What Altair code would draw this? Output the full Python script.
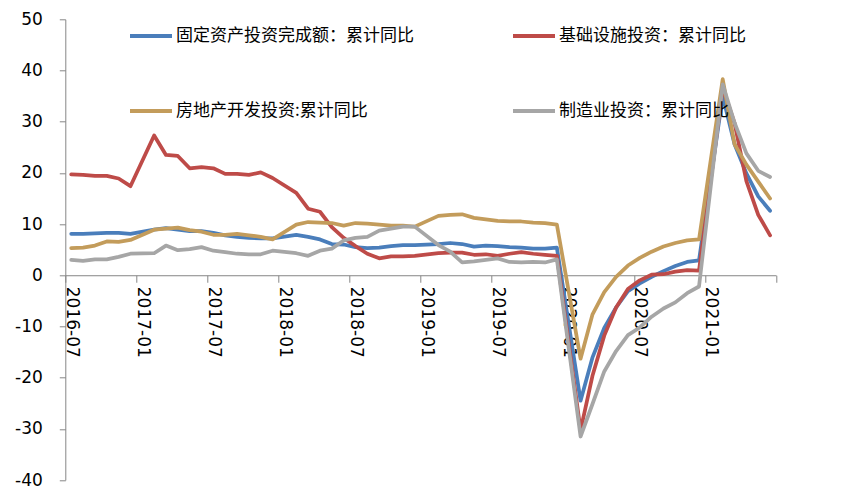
import altair as alt
import pandas as pd

# ---- data ----
years_months = []
for y in range(2016, 2022):
    for m in range(1, 13):
        years_months.append(f"{y}-{m:02d}")
categories = years_months[6:66]  # 2016-07 ... 2021-06 (60 categories)

tick_labels = ["2016-07", "2017-01", "2017-07", "2018-01", "2018-07",
               "2019-01", "2019-07", "2020-01", "2020-07", "2021-01"]

series_names = ["固定资产投资完成额：累计同比", "基础设施投资：累计同比",
                "房地产开发投资:累计同比", "制造业投资：累计同比"]
series_colors = ["#4A7EBB", "#BE4B48", "#C39C5B", "#A6A6A6"]

fai = [8.1, 8.1, 8.2, 8.3, 8.3, 8.1,
       None, 8.9, 9.2, 8.9, 8.6, 8.6, 8.3, 7.8, 7.5, 7.3, 7.2, 7.2,
       None, 7.9, 7.5, 7.0, 6.1, 6.0, 5.5, 5.3, 5.4, 5.7, 5.9, 5.9,
       None, 6.1, 6.3, 6.1, 5.6, 5.8, 5.7, 5.5, 5.4, 5.2, 5.2, 5.4,
       None, -24.5, -16.1, -10.3, -6.3, -3.1, -1.6, -0.3, 0.8, 1.8, 2.6, 2.9,
       None, 35.0, 25.6, 19.9, 15.4, 12.6]

infra = [19.7, 19.6, 19.4, 19.4, 18.9, 17.4,
         None, 27.3, 23.5, 23.3, 20.9, 21.1, 20.9, 19.8, 19.8, 19.6, 20.1, 19.0,
         None, 16.1, 13.0, 12.4, 9.4, 7.3, 5.7, 4.2, 3.3, 3.7, 3.7, 3.8,
         None, 4.3, 4.4, 4.4, 4.0, 4.1, 3.8, 4.2, 4.5, 4.2, 4.0, 3.8,
         None, -30.3, -19.7, -11.8, -6.3, -2.7, -1.0, 0.1, 0.2, 0.7, 1.0, 0.9,
         None, 36.6, 29.7, 18.4, 11.8, 7.8]

realestate = [5.3, 5.4, 5.8, 6.6, 6.5, 6.9,
              None, 8.9, 9.1, 9.3, 8.8, 8.5, 7.9, 7.9, 8.1, 7.8, 7.5, 7.0,
              None, 9.9, 10.4, 10.3, 10.2, 9.7, 10.2, 10.1, 9.9, 9.7, 9.7, 9.5,
              None, 11.6, 11.8, 11.9, 11.2, 10.9, 10.6, 10.5, 10.5, 10.3, 10.2, 9.9,
              None, -16.3, -7.7, -3.3, -0.3, 1.9, 3.4, 4.6, 5.6, 6.3, 6.8, 7.0,
              None, 38.3, 25.6, 21.6, 18.3, 15.0]

manufacturing = [3.0, 2.8, 3.1, 3.1, 3.6, 4.2,
                 None, 4.3, 5.8, 4.9, 5.1, 5.5, 4.8, 4.5, 4.2, 4.1, 4.1, 4.8,
                 None, 4.3, 3.8, 4.8, 5.2, 6.8, 7.3, 7.5, 8.7, 9.1, 9.5, 9.5,
                 None, 5.9, 4.6, 2.5, 2.7, 3.0, 3.3, 2.6, 2.5, 2.6, 2.5, 3.1,
                 None, -31.5, -25.2, -18.8, -14.8, -11.7, -10.2, -8.1, -6.5, -5.3, -3.5, -2.2,
                 None, 37.3, 29.8, 23.8, 20.4, 19.2]

all_series = [fai, infra, realestate, manufacturing]

rows = []
for name, vals in zip(series_names, all_series):
    for i, v in enumerate(vals):
        if v is not None:
            rows.append({"idx": i, "month": categories[i], "value": v, "series": name})
df = pd.DataFrame(rows)

# ---- geometry ----
PLOT_W = 710.7
PLOT_H = 460.7
Y_MIN, Y_MAX = -40, 50
zero_offset = -PLOT_H * (0 - Y_MIN) / (Y_MAX - Y_MIN)
half_cat = PLOT_W / 60 / 2

label_expr = "[" + ",".join(f"'{t}'" for t in tick_labels) + "][round((datum.value + 0.5) / 6)] || ''"

x_enc = alt.X(
    "idx:Q",
    scale=alt.Scale(domain=[-0.5, 59.5], nice=False, zero=False),
    axis=alt.Axis(
        title=None,
        values=[-0.5 + 6 * k for k in range(11)],
        labelExpr=label_expr,
        labelAngle=90,
        labelAlign="left",
        labelBaseline="middle",
        labelOffset=half_cat,
        labelPadding=4,
        labelFlush=False,
        labelOverlap=False,
        labelBound=False,
        labelFont="DejaVu Sans",
        labelFontSize=17,
        labelColor="#000000",
        tickSize=7,
        tickColor="#868686",
        domainColor="#868686",
        grid=False,
        offset=zero_offset,
    ),
)

y_enc = alt.Y(
    "value:Q",
    scale=alt.Scale(domain=[Y_MIN, Y_MAX], nice=False, zero=False),
    axis=alt.Axis(
        title=None,
        values=list(range(-40, 51, 10)),
        labelExpr="'' + datum.value",
        labelFont="DejaVu Sans",
        labelFontSize=17,
        labelColor="#000000",
        labelPadding=17,
        tickSize=6,
        tickColor="#868686",
        domainColor="#868686",
        grid=False,
    ),
)

color_enc = alt.Color(
    "series:N",
    scale=alt.Scale(domain=series_names, range=series_colors),
    legend=alt.Legend(
        title=None,
        orient="none",
        direction="horizontal",
        legendX=62.7,
        legendY=-6.3,
        columns=2,
        columnPadding=91,
        rowPadding=44,
        padding=0,
        symbolType="stroke",
        symbolSize=1764,
        symbolStrokeWidth=4,
        symbolOffset=0,
        labelOffset=2,
        labelFont="Noto Sans CJK SC",
        labelFontSize=17,
        labelColor="#000000",
        labelLimit=500,
    ),
)

layers = []
for name in series_names:
    layers.append(
        alt.Chart(df)
        .transform_filter(alt.datum.series == name)
        .mark_line(strokeWidth=3.75, strokeJoin="round", strokeCap="round")
        .encode(x=x_enc, y=y_enc, color=color_enc, order="idx:Q")
    )

chart = (
    alt.layer(*layers)
    .properties(
        width=PLOT_W,
        height=PLOT_H,
        autosize=alt.AutoSizeParams(type="none"),
        padding={"left": 65.3, "top": 19.3, "right": 66, "bottom": 22},
        background="white",
    )
    .configure_view(stroke=None)
)

chart.save("out.html", embed_options={"renderer": "svg", "actions": False})
